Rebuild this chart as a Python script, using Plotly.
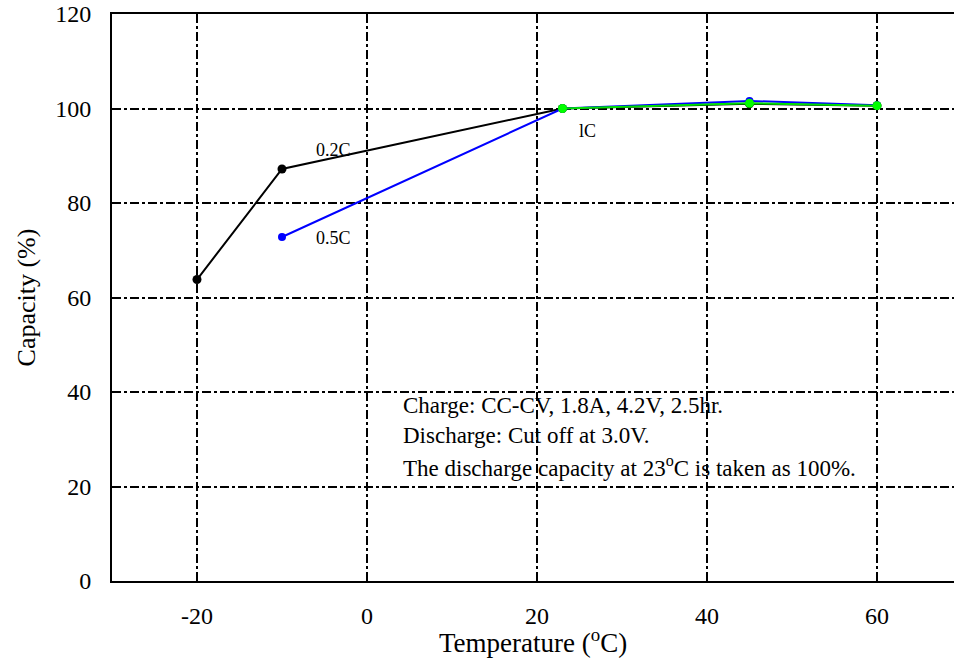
import plotly.graph_objects as go

temp_02c = [-20, -10, 23, 45, 60]
cap_02c = [63.8, 87.2, 100.0, 101.0, 100.6]
temp_05c = [-10, 23, 45, 60]
cap_05c = [72.8, 100.0, 101.6, 100.7]
temp_1c = [23, 45, 60]
cap_1c = [100.0, 101.1, 100.6]

x_ticks = [-20, 0, 20, 40, 60]
x_tick_labels = ["-20", "0", "20", "40", "60"]
y_ticks = [0, 20, 40, 60, 80, 100, 120]

FONT = "Liberation Serif"

fig = go.Figure()
fig.add_trace(go.Scatter(x=temp_02c, y=cap_02c, mode="lines+markers",
                         line=dict(color="black", width=2),
                         marker=dict(color="black", size=9), name="0.2C"))
fig.add_trace(go.Scatter(x=temp_05c, y=cap_05c, mode="lines+markers",
                         line=dict(color="#0000ff", width=2),
                         marker=dict(color="#0000ff", size=8), name="0.5C"))
fig.add_trace(go.Scatter(x=temp_1c, y=cap_1c, mode="lines+markers",
                         line=dict(color="#00e000", width=2),
                         marker=dict(color="#00ff00", size=9), name="1C"))

grid = dict(showgrid=True, gridcolor="black", gridwidth=1.5, griddash="dashdot",
            zeroline=False, showline=True, linecolor="black", linewidth=2,
            ticks="", tickfont=dict(family=FONT, size=24, color="black"))

fig.update_xaxes(range=[-30, 69.06], tickvals=x_ticks, ticktext=x_tick_labels,
                 mirror=True, ticklabelstandoff=12, **grid)
fig.update_yaxes(range=[0, 120], tickvals=y_ticks, ticklabelstandoff=14,
                 title=dict(text="Capacity (%)",
                            font=dict(family=FONT, size=26, color="black"),
                            standoff=12),
                 **grid)

ann_font = dict(family=FONT, size=23, color="black")
lab_font = dict(family=FONT, size=18, color="black")
annotations = [
    dict(x=-4.0, y=91.2, text="0.2C", font=lab_font, showarrow=False),
    dict(x=-4.0, y=72.6, text="0.5C", font=lab_font, showarrow=False),
    dict(x=25.9, y=95.2, text="lC", font=lab_font, showarrow=False),
    dict(x=4.0, y=37.2, text="Charge: CC-CV, 1.8A, 4.2V, 2.5hr.", font=ann_font,
         showarrow=False, xanchor="left"),
    dict(x=4.0, y=30.7, text="Discharge: Cut off at 3.0V.", font=ann_font,
         showarrow=False, xanchor="left"),
    dict(x=4.0, y=24.3, text="The discharge capacity at 23<sup>o</sup>C is taken as 100%.",
         font=ann_font, showarrow=False, xanchor="left"),
    dict(x=0.5, y=-0.106, xref="paper", yref="paper", yanchor="middle",
         text="Temperature (<sup>o</sup>C)",
         font=dict(family=FONT, size=27, color="black"), showarrow=False),
]

fig.update_layout(width=954, height=666, showlegend=False,
                  margin=dict(l=112, r=0, t=14, b=85),
                  plot_bgcolor="white", paper_bgcolor="white",
                  font=dict(family=FONT, color="black"),
                  annotations=annotations)

fig.write_html("out.html", config={"displayModeBar": False},
               post_script="document.body.style.margin='0';document.body.style.overflow='hidden';")
